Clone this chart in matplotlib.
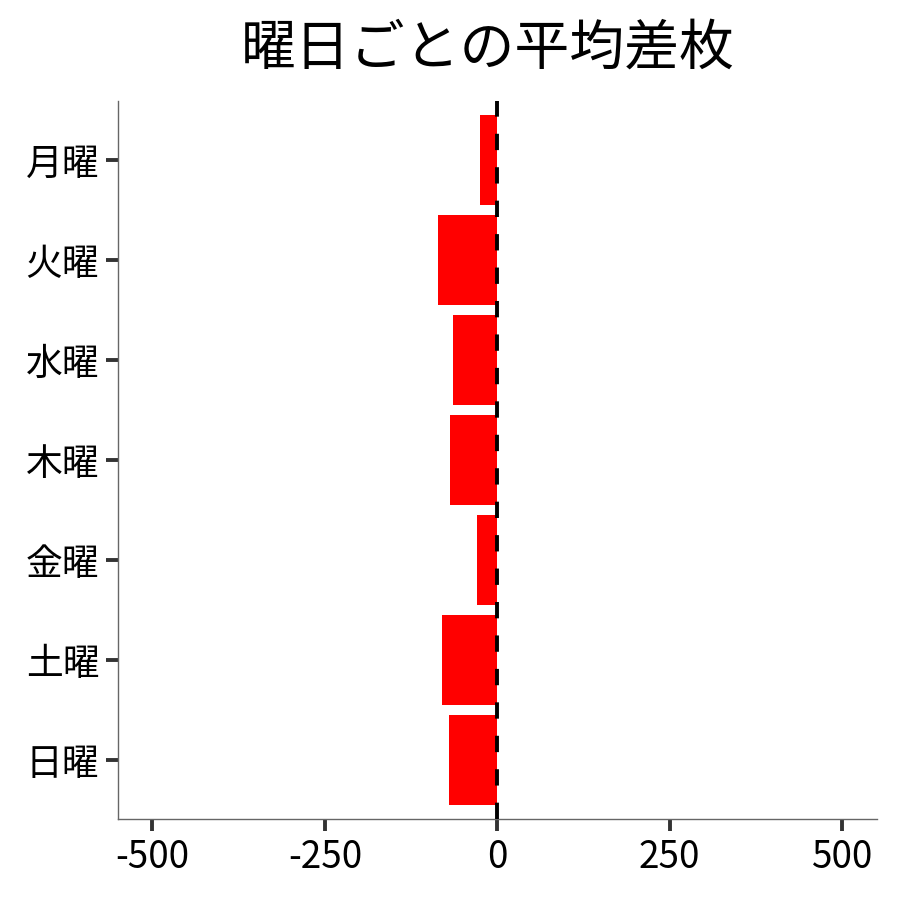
import matplotlib
matplotlib.use('Agg')
import matplotlib.pyplot as plt
import numpy as np

# data
days = ['月曜', '火曜', '水曜', '木曜', '金曜', '土曜', '日曜']
avg_diff = [-25.7, -86.6, -64.4, -69.2, -29.6, -80.8, -70.6]
xticks = [-500, -250, 0, 250, 500]

plt.rcParams['font.family'] = ['Noto Sans CJK JP', 'DejaVu Sans']

fig = plt.figure(figsize=(9, 9), dpi=100)
ax = fig.add_axes([0.131, 0.09, 0.843, 0.798])

y = np.arange(len(days))
ax.barh(y, avg_diff, height=0.9, color='#ff0000', zorder=2)
ax.axvline(0, color='black', linewidth=2.8, dashes=(4.2, 4.4), zorder=3)

ax.set_yticks(y)
ax.set_yticklabels(days)
ax.set_ylim(len(days) - 1 + 0.59, -0.59)
ax.set_xlim(-550, 550)
ax.set_xticks(xticks)
ax.set_xticklabels([str(v) for v in xticks])

for side in ['top', 'right']:
    ax.spines[side].set_visible(False)
for side in ['left', 'bottom']:
    ax.spines[side].set_color('#666666')
    ax.spines[side].set_linewidth(1.0)

ax.tick_params(axis='both', length=8.5, width=2.8, color='#333333',
               labelsize=26.5, pad=5, labelcolor='black')

ax.set_title('曜日ごとの平均差枚', fontsize=39.5, pad=26, x=0.488)

fig.savefig('out.png', dpi=100)
